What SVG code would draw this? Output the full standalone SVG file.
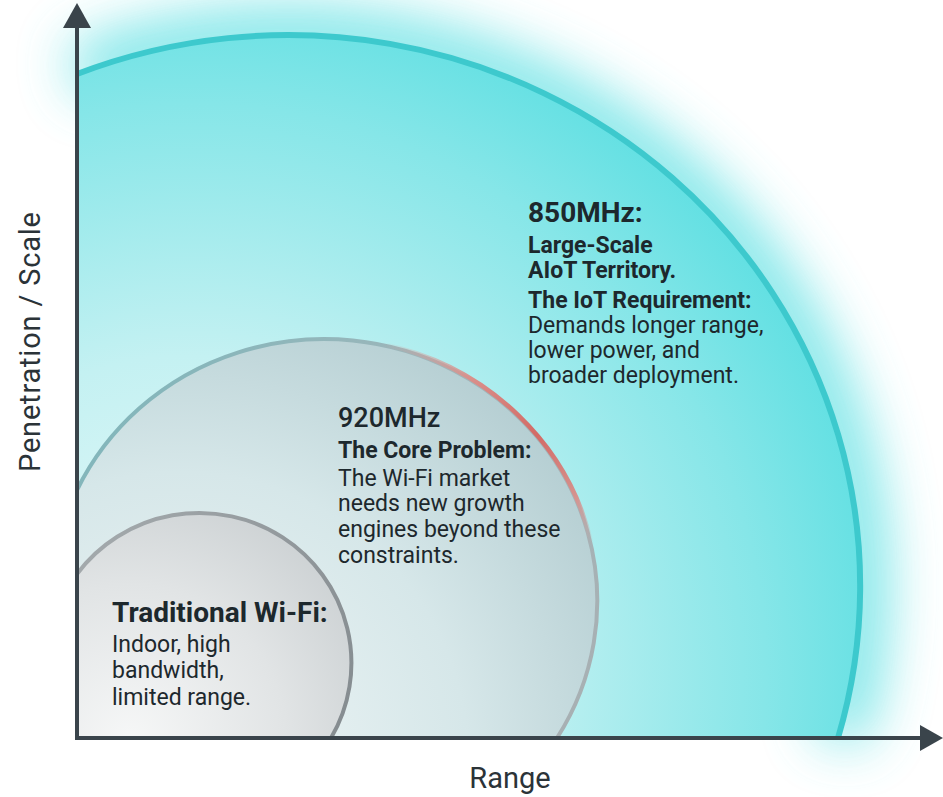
<svg xmlns="http://www.w3.org/2000/svg" width="943" height="797" viewBox="0 0 943 797">
  <defs>
    <filter id="glow" x="-30%" y="-30%" width="160%" height="160%">
      <feGaussianBlur stdDeviation="28"/>
    </filter>
    <radialGradient id="bigFill" gradientUnits="userSpaceOnUse" cx="190" cy="680" r="720">
      <stop offset="0" stop-color="#eefafa"/>
      <stop offset="0.45" stop-color="#c4f1f2"/>
      <stop offset="0.8" stop-color="#86e6e8"/>
      <stop offset="1" stop-color="#5ddfe2"/>
    </radialGradient>
    <radialGradient id="midFill" gradientUnits="userSpaceOnUse" cx="180" cy="760" r="480">
      <stop offset="0" stop-color="#f1f7f7"/>
      <stop offset="0.6" stop-color="#d6e7e9"/>
      <stop offset="1" stop-color="#b6cfd3"/>
    </radialGradient>
    <radialGradient id="smallFill" gradientUnits="userSpaceOnUse" cx="130" cy="740" r="260">
      <stop offset="0" stop-color="#f6f7f7"/>
      <stop offset="0.6" stop-color="#e1e4e5"/>
      <stop offset="1" stop-color="#cdd2d4"/>
    </radialGradient>
    <linearGradient id="midStroke" gradientUnits="userSpaceOnUse" x1="77" y1="400" x2="600" y2="700">
      <stop offset="0" stop-color="#7fb6bb"/>
      <stop offset="0.5" stop-color="#9fb6ba"/>
      <stop offset="1" stop-color="#a8b0b3"/>
    </linearGradient>
    <linearGradient id="redStroke" gradientUnits="userSpaceOnUse" x1="382" y1="344" x2="592" y2="546">
      <stop offset="0" stop-color="#d9a09c" stop-opacity="0"/>
      <stop offset="0.3" stop-color="#d9908b"/>
      <stop offset="0.6" stop-color="#d36b66"/>
      <stop offset="0.85" stop-color="#d59490"/>
      <stop offset="1" stop-color="#c9a9a8" stop-opacity="0"/>
    </linearGradient>
    <linearGradient id="smallStroke" gradientUnits="userSpaceOnUse" x1="77" y1="560" x2="350" y2="700">
      <stop offset="0" stop-color="#a3a9ac"/>
      <stop offset="1" stop-color="#868d91"/>
    </linearGradient>
    <style>
      text { font-family: Roboto, "Liberation Sans", Arial, sans-serif; fill: #1d282d; }
      .head { font-weight: 700; font-size: 28px; }
      .head2 { font-weight: 500; font-size: 27px; }
      .sub { font-weight: 700; font-size: 23px; }
      .body { font-weight: 400; font-size: 23px; }
      .axis-label { font-weight: 400; font-size: 29px; fill: #2b3338; }
      .axis { stroke: #3a444b; stroke-width: 4; fill: none; }
      .arrowhead { fill: #3a444b; }
    </style>
  </defs>

  <rect width="943" height="797" fill="#ffffff"/>

  <g id="node-850">
    <path d="M 77 74 A 572 551 0 0 1 838 738" fill="none" stroke="#4fdde0" stroke-width="50" opacity="0.85" filter="url(#glow)"/>
    <path d="M 77 738 L 77 74 A 572 551 0 0 1 838 738 Z" fill="url(#bigFill)"/>
    <path d="M 77 74 A 572 551 0 0 1 838 738" fill="none" stroke="#3dc9cd" stroke-width="6"/>
    <text class="head" x="528" y="222">850MHz:</text>
    <text class="sub" x="528" y="253">Large-Scale</text>
    <text class="sub" x="528" y="278">AIoT Territory.</text>
    <text class="sub" x="528" y="308">The IoT Requirement:</text>
    <text class="body" x="528" y="333">Demands longer range,</text>
    <text class="body" x="528" y="358">lower power, and</text>
    <text class="body" x="528" y="383">broader deployment.</text>
  </g>

  <g id="node-920">
    <path d="M 77 738 L 77 490 A 273 262 0 1 1 557 738 Z" fill="url(#midFill)"/>
    <path d="M 77 490 A 273 262 0 1 1 557 738" fill="none" stroke="url(#midStroke)" stroke-width="4"/>
    <path d="M 382 344 A 273 262 0 0 1 592 546" fill="none" stroke="url(#redStroke)" stroke-width="4.5"/>
    <text class="head2" x="338" y="427">920MHz</text>
    <text class="sub" x="338" y="458">The Core Problem:</text>
    <text class="body" x="338" y="486">The Wi-Fi market</text>
    <text class="body" x="338" y="511">needs new growth</text>
    <text class="body" x="338" y="537">engines beyond these</text>
    <text class="body" x="338" y="563">constraints.</text>
  </g>

  <g id="node-wifi">
    <path d="M 77 738 L 77 574 A 152 150 0 0 1 331 738 Z" fill="url(#smallFill)"/>
    <path d="M 77 574 A 152 150 0 0 1 331 738" fill="none" stroke="url(#smallStroke)" stroke-width="4"/>
    <text class="head" x="112" y="622" font-size="27">Traditional Wi-Fi:</text>
    <text class="body" x="112" y="652">Indoor, high</text>
    <text class="body" x="112" y="678">bandwidth,</text>
    <text class="body" x="112" y="705">limited range.</text>
  </g>

  <g id="connectors">
    <line class="axis" x1="77" y1="740" x2="77" y2="26"/>
    <polygon class="arrowhead" points="77,3 63,28 91,28"/>
    <line class="axis" x1="75" y1="738" x2="922" y2="738"/>
    <polygon class="arrowhead" points="943,738 920,725 920,751"/>
  </g>

  <g id="axis-labels">
    <text class="axis-label" transform="translate(40 342) rotate(-90)" text-anchor="middle" textLength="260" lengthAdjust="spacing">Penetration / Scale</text>
    <text class="axis-label" x="510" y="788" text-anchor="middle" font-size="30">Range</text>
  </g>
</svg>
